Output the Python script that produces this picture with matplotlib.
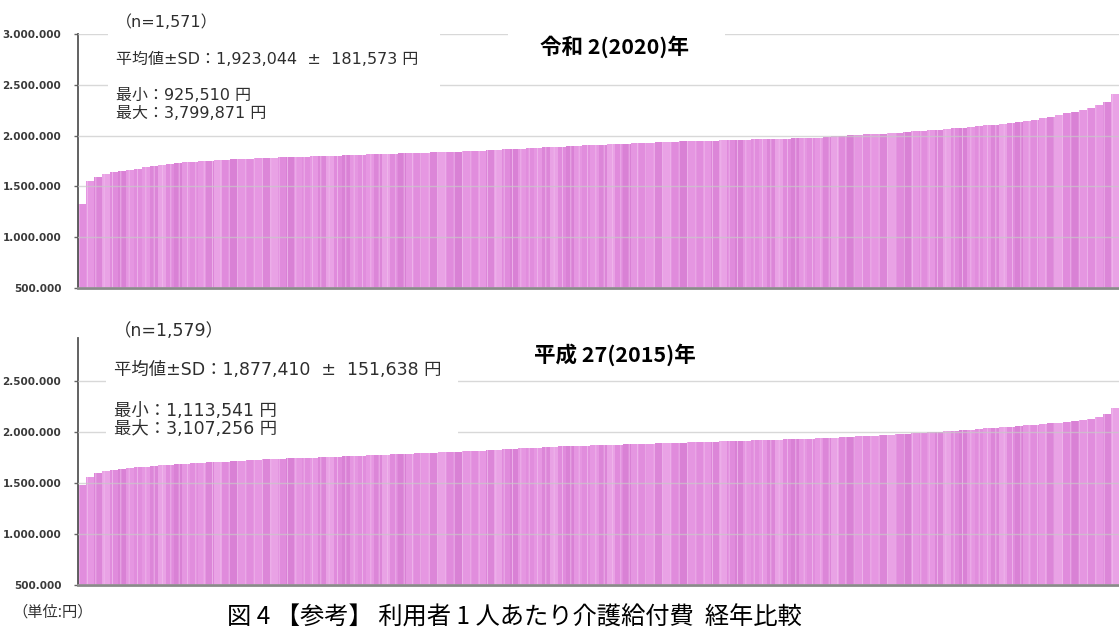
import matplotlib.pyplot as plt
from matplotlib.patches import Rectangle
from matplotlib.ticker import FuncFormatter

plt.rcParams['font.family'] = ['Noto Sans CJK JP', 'DejaVu Sans']
plt.rcParams['hatch.linewidth'] = 0.6

r2_values = [
    1330, 1556, 1590, 1620, 1638, 1652, 1663, 1673, 1688, 1700,
    1712, 1724, 1735, 1741, 1745, 1749, 1753, 1757, 1761, 1765,
    1769, 1773, 1776, 1779, 1782, 1785, 1788, 1790, 1793, 1796,
    1798, 1801, 1803, 1806, 1809, 1812, 1814, 1817, 1820, 1822,
    1825, 1827, 1830, 1833, 1835, 1838, 1840, 1843, 1846, 1848,
    1851, 1854, 1858, 1866, 1870, 1873, 1877, 1880, 1884, 1888,
    1891, 1895, 1900, 1904, 1907, 1911, 1914, 1918, 1921, 1925,
    1928, 1932, 1935, 1937, 1940, 1942, 1944, 1947, 1949, 1951,
    1954, 1956, 1958, 1960, 1963, 1965, 1967, 1969, 1971, 1974,
    1976, 1978, 1981, 1986, 1992, 1997, 2003, 2008, 2012, 2016,
    2020, 2024, 2029, 2035, 2041, 2047, 2053, 2060, 2066, 2072,
    2079, 2086, 2093, 2100, 2108, 2116, 2123, 2132, 2144, 2156,
    2170, 2185, 2200, 2218, 2234, 2254, 2275, 2300, 2335, 2410,
]

h27_values = [
    1480, 1560, 1598, 1616, 1628, 1639, 1647, 1655, 1660, 1666,
    1671, 1676, 1682, 1688, 1693, 1698, 1702, 1706, 1710, 1714,
    1718, 1722, 1726, 1730, 1733, 1737, 1740, 1743, 1746, 1749,
    1752, 1755, 1758, 1762, 1765, 1768, 1771, 1775, 1778, 1781,
    1784, 1787, 1790, 1793, 1796, 1799, 1802, 1805, 1809, 1812,
    1816, 1820, 1825, 1832, 1837, 1840, 1844, 1847, 1851, 1854,
    1857, 1860, 1863, 1866, 1868, 1871, 1873, 1876, 1878, 1881,
    1884, 1886, 1889, 1891, 1894, 1896, 1898, 1900, 1903, 1905,
    1907, 1910, 1912, 1914, 1917, 1919, 1921, 1924, 1926, 1928,
    1931, 1933, 1936, 1940, 1944, 1948, 1952, 1956, 1960, 1964,
    1969, 1973, 1978, 1983, 1988, 1993, 1998, 2002, 2007, 2012,
    2018, 2023, 2029, 2034, 2039, 2045, 2050, 2056, 2063, 2070,
    2077, 2083, 2089, 2096, 2103, 2116, 2130, 2150, 2180, 2235,
]

ticks_top = [500000, 1000000, 1500000, 2000000, 2500000, 3000000]
ticks_bottom = [500000, 1000000, 1500000, 2000000, 2500000]

r2_title = '令和 2(2020)年'
h27_title = '平成 27(2015)年'
r2_notes = ['（n=1,571）', '平均値±SD：1,923,044  ±  181,573 円',
            '最小：925,510 円', '最大：3,799,871 円']
h27_notes = ['（n=1,579）', '平均値±SD：1,877,410  ±  151,638 円',
             '最小：1,113,541 円', '最大：3,107,256 円']

W, H = 1119, 632
fig = plt.figure(figsize=(W / 100, H / 100), dpi=100)


def px(x, y):
    return x / W, 1 - y / H


shades = ['#e18ddd', '#e697e2', '#dc86d8', '#e9a2e5', '#e08bdc', '#d981d5', '#e596e1']


def panel(top_px, bottom_px, values, ticks, ymax):
    x0, y0 = px(78, bottom_px)
    ax = fig.add_axes([x0, y0, 1 - x0, (bottom_px - top_px) / H])
    yen = [v * 1000 for v in values]
    cols = [shades[i % len(shades)] for i in range(len(yen))]
    ax.bar(range(len(yen)), [v - 500000 for v in yen], bottom=500000, width=1.0,
           color=cols, edgecolor='#efb8ec', linewidth=0, hatch='||', zorder=2)
    for t in ticks:
        ax.axhline(t, color='#c8c8c8', lw=1.0, alpha=0.7, zorder=3)
    ax.set_xlim(-0.5, len(yen) - 0.5)
    ax.set_ylim(500000, ymax)
    ax.set_yticks(ticks)
    ax.yaxis.set_major_formatter(FuncFormatter(lambda v, p: f'{int(v):,}'.replace(',', '.')))
    ax.set_xticks([])
    for s in ['top', 'right']:
        ax.spines[s].set_visible(False)
    ax.spines['left'].set_color('#555555')
    ax.spines['left'].set_linewidth(1.3)
    ax.spines['bottom'].set_color('#8a8a8a')
    ax.spines['bottom'].set_linewidth(2)
    ax.tick_params(axis='y', length=3, width=1, color='#666666', pad=9)
    for lab in ax.get_yticklabels():
        lab.set_fontfamily('DejaVu Sans')
        lab.set_fontweight('bold')
        lab.set_fontsize(7.5)
        lab.set_color('#3a3a3a')
    return ax


panel(34, 288, r2_values, ticks_top, 3000000)
panel(338, 585, h27_values, ticks_bottom, 2920000)


def white_box(x1, y1, x2, y2):
    fx, fy = px(x1, y2)
    fig.add_artist(Rectangle((fx, fy), (x2 - x1) / W, (y2 - y1) / H, transform=fig.transFigure,
                             facecolor='white', edgecolor='none', zorder=5))


white_box(108, 6, 440, 126)
white_box(508, 22, 725, 72)
white_box(106, 312, 458, 442)

# DejaVu first for the wide digits, Noto CJK picks up the kanji
note_fonts = ['DejaVu Sans', 'Noto Sans CJK JP']


def notes(lines, ys, x, size):
    for txt, y in zip(lines, ys):
        fig.text(*px(x, y), txt, fontsize=size, family=note_fonts, color='#2e2e2e',
                 va='center', ha='left', zorder=6)


notes(r2_notes, [22, 59, 96, 113], 116, 11.5)
notes(h27_notes, [331, 370, 411, 429], 114, 12.5)

fig.text(*px(615, 47), r2_title, fontsize=15.5, fontweight='bold', color='black',
         ha='center', va='center', zorder=6)
fig.text(*px(615, 355), h27_title, fontsize=15.5, fontweight='bold', color='black',
         ha='center', va='center', zorder=6)

fig.text(*px(12, 612), '（単位:円）', fontsize=11, color='#333333', ha='left', va='center')
fig.text(*px(227, 631), '図 4 【参考】 利用者 1 人あたり介護給付費  経年比較', fontsize=17.5,
         color='black', ha='left', va='bottom')

plt.savefig('out.png', dpi=100)
